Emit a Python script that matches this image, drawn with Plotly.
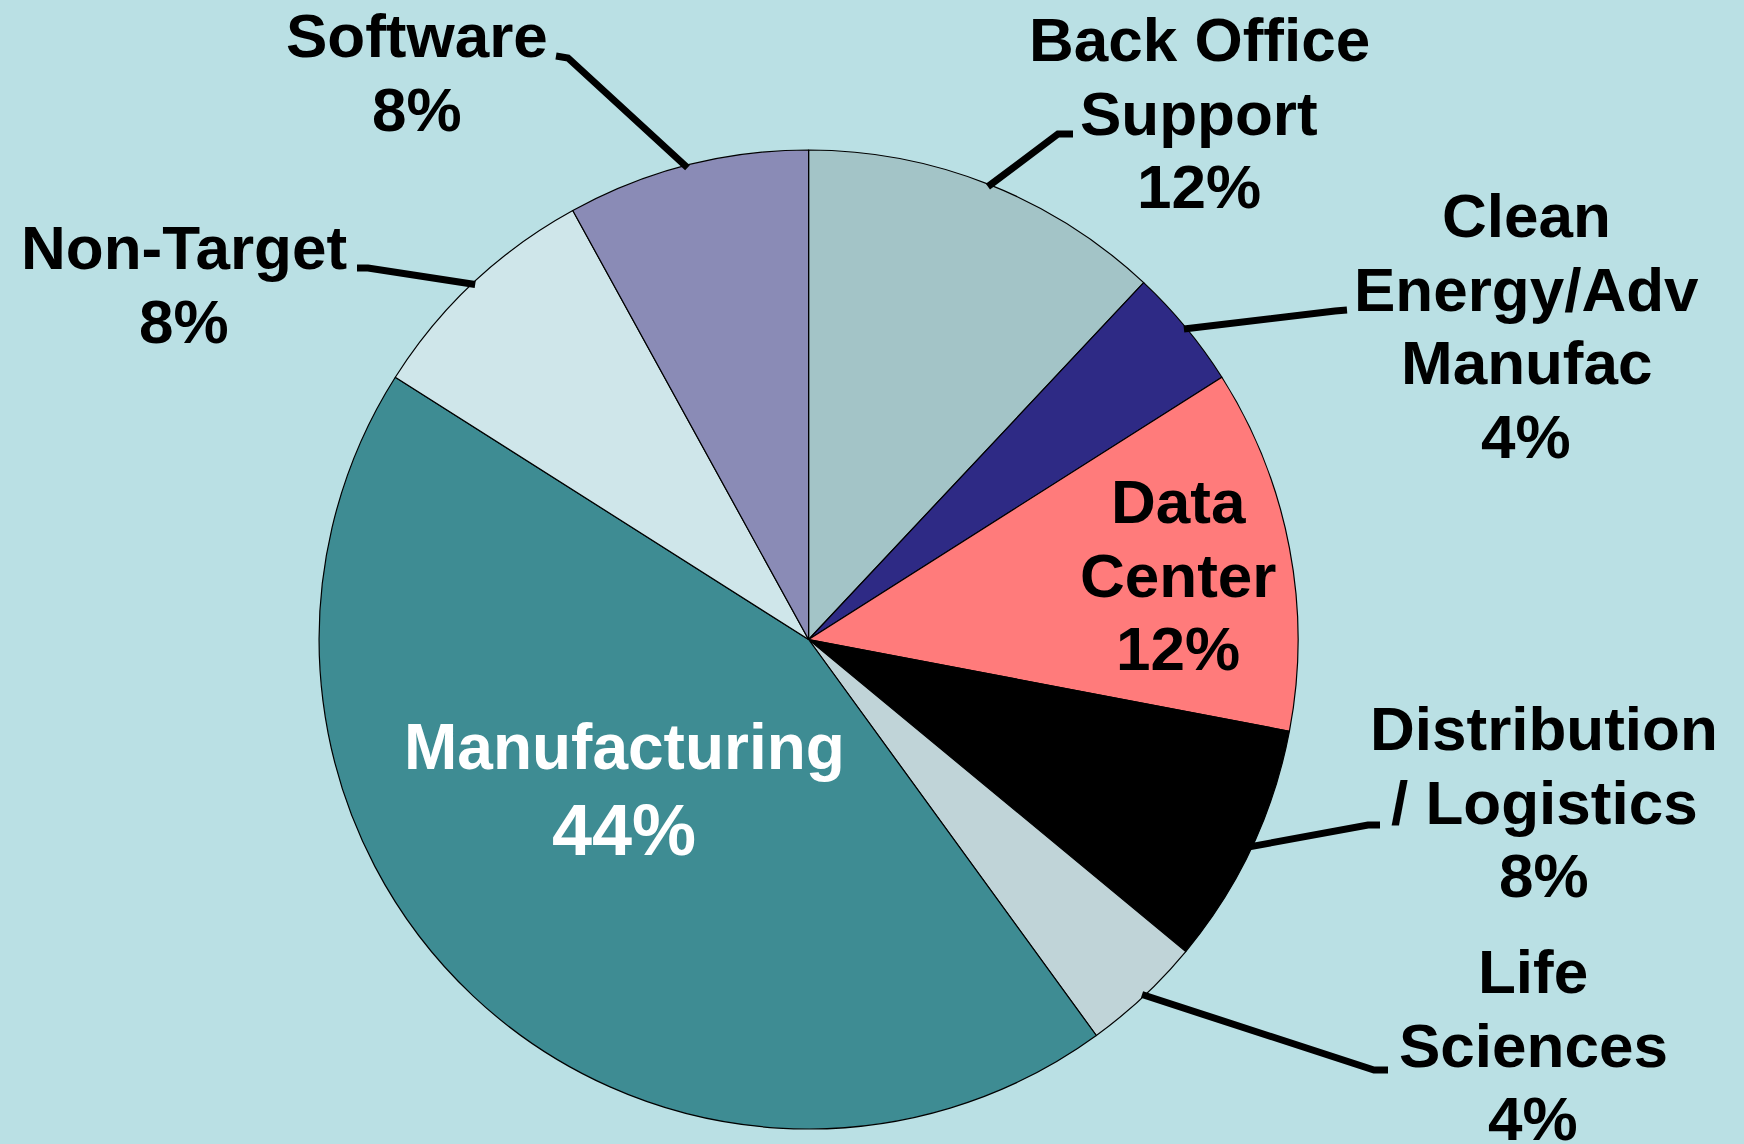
import math
import plotly.graph_objects as go

# ---------------- data ----------------
categories = ["Back Office Support", "Clean Energy/Adv Manufac", "Data Center",
              "Distribution / Logistics", "Life Sciences", "Manufacturing",
              "Non-Target", "Software"]
shares = [12, 4, 12, 8, 4, 44, 8, 8]
label_lines = [["Back Office", "Support"], ["Clean", "Energy/Adv", "Manufac"],
               ["Data", "Center"], ["Distribution", "/ Logistics"],
               ["Life", "Sciences"], ["Manufacturing"], ["Non-Target"], ["Software"]]

# ---------------- style / layout ----------------
slice_colors = ["#A3C4C7", "#2E2A85", "#FF7B7B", "#000000",
                "#C0D4D8", "#3E8C93", "#CFE6EA", "#8A8BB6"]
text_colors = ["black", "black", "black", "black", "black", "white", "black", "black"]
bg = "#BAE0E4"

W, H = 1744, 1144
CX, CY, R = 808.6, 639.5, 489.5
FONT = "Liberation Sans, Arial, Helvetica, sans-serif"
FS = 62
SPACING = 73.5

# label block: (center x px, first baseline px, name font size, pct font size, spacing)
label_pos = [
    (1199, 62, FS, FS, SPACING),
    (1526, 238, FS, FS, SPACING),
    (1178, 524, FS, FS, SPACING),
    (1544, 751, FS, FS, SPACING),
    (1533, 994, FS, FS, SPACING),
    (624, 770, 64, 72, 86),
    (184, 270, FS, FS, SPACING),
    (417, 58, FS, FS, SPACING),
]
# leader polyline (elbow, end) in px; None = label inside slice
leaders = [
    ((1058, 134), (1073, 134)),
    ((1335, 311), (1347, 310)),
    None,
    ((1368, 825), (1380, 825)),
    ((1374, 1070), (1388, 1070)),
    None,
    ((368, 268), (357, 268)),
    ((568, 58), (556, 56)),
]

def px(x, y):
    return x / W, 1 - y / H

fig = go.Figure(go.Pie(
    labels=categories, values=shares, sort=False, direction="clockwise", rotation=0,
    marker=dict(colors=slice_colors, line=dict(color="black", width=1.2)),
    textinfo="none", hoverinfo="label+percent", showlegend=False,
    domain=dict(x=[(CX - R) / W, (CX + R) / W], y=[(H - CY - R) / H, (H - CY + R) / H]),
))

total = sum(shares)
annotations = []
shapes = []
cum = 0.0
for i, v in enumerate(shares):
    mid = (cum + v / 2) / total * 2 * math.pi
    cum += v
    cx, base, fs_name, fs_pct, sp = label_pos[i]
    lines = label_lines[i] + [f"{round(100 * v / total)}%"]
    for j, t in enumerate(lines):
        fs = fs_pct if j == len(lines) - 1 else fs_name
        bl = base + j * sp
        x, y = px(cx, bl - 0.358 * fs)
        annotations.append(dict(
            x=x, y=y, xref="paper", yref="paper", xanchor="center", yanchor="middle",
            text=f"<b>{t}</b>", showarrow=False,
            font=dict(family=FONT, size=fs, color=text_colors[i])))
    if leaders[i] is not None:
        sx = CX + R * 0.995 * math.sin(mid)
        sy = CY - R * 0.995 * math.cos(mid)
        (ex, ey), (fx, fy) = leaders[i]
        p0, p1, p2 = px(sx, sy), px(ex, ey), px(fx, fy)
        shapes.append(dict(
            type="path", xref="paper", yref="paper",
            path=f"M {p0[0]},{p0[1]} L {p1[0]},{p1[1]} L {p2[0]},{p2[1]}",
            line=dict(color="black", width=7)))

fig.update_layout(
    width=W, height=H, margin=dict(l=0, r=0, t=0, b=0),
    paper_bgcolor=bg, plot_bgcolor=bg,
    annotations=annotations, shapes=shapes,
)

fig.write_html("out.html", config={"displayModeBar": False},
               post_script="document.body.style.margin='0';document.body.style.overflow='hidden';")
